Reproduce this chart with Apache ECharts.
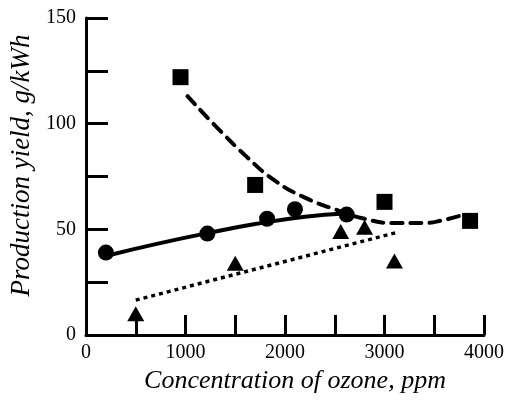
<!DOCTYPE html>
<html>
<head>
<meta charset="utf-8">
<script src="https://cdn.jsdelivr.net/npm/echarts@6/dist/echarts.min.js"></script>
<style>html,body{margin:0;padding:0;background:#fff}#c{width:508px;height:401px}</style>
</head>
<body>
<div id="c"></div>
<script>
// Measured points
const squarePts = [[950, 122], [1700, 71], [3000, 63], [3860, 54]];
const circlePts = [[200, 39], [1220, 48], [1820, 55], [2100, 59.5], [2620, 57]];
const trianglePts = [[500, 10], [1500, 34], [2560, 49], [2800, 51], [3100, 35]];
// Fitted curves as traced
const dashedFit = [[1020, 113], [1300, 99], [1600, 85], [1900, 73], [2200, 65], [2500, 59.5], [2800, 55], [3100, 53], [3400, 53], [3600, 54.5], [3800, 57]];
const solidFit = [[250, 38], [700, 43], [1200, 48], [1700, 52.5], [2200, 56], [2600, 57.5]];
const dottedFit = [[500, 16.5], [3120, 48.5]];
const xTickLabels = ['0', '1000', '2000', '3000', '4000'];
const yTickLabels = ['0', '50', '100', '150'];

const chart = echarts.init(document.getElementById('c'));
const serif = "'Liberation Serif', 'Times New Roman', serif";
chart.setOption({
  animation: false,
  backgroundColor: '#fff',
  textStyle: { fontFamily: serif },
  grid: { left: 86, right: 24, top: 18, bottom: 66 },
  xAxis: {
    type: 'value', min: 0, max: 4000, interval: 500,
    name: 'Concentration of ozone, ppm', nameLocation: 'middle', nameGap: 32,
    nameTextStyle: { fontFamily: serif, fontStyle: 'italic', fontSize: 26, color: '#000', padding: [0, 0, 0, 20] },
    axisLine: { lineStyle: { color: '#000', width: 3 } },
    axisTick: { inside: true, length: 20, lineStyle: { color: '#000', width: 3 } },
    axisLabel: {
      fontFamily: serif, fontSize: 20, color: '#000', margin: 8,
      formatter: v => xTickLabels.includes(String(v)) ? String(v) : ''
    },
    splitLine: { show: false }
  },
  yAxis: {
    type: 'value', min: 0, max: 150, interval: 25,
    name: 'Production yield, g/kWh', nameLocation: 'middle', nameGap: 50,
    nameTextStyle: { fontFamily: serif, fontStyle: 'italic', fontSize: 27, color: '#000', padding: [0, 0, 0, 22] },
    axisLine: { lineStyle: { color: '#000', width: 3 } },
    axisTick: { inside: true, length: 22, lineStyle: { color: '#000', width: 3 } },
    axisLabel: {
      fontFamily: serif, fontSize: 20, color: '#000', margin: 10,
      formatter: v => yTickLabels.includes(String(v)) ? String(v) : ''
    },
    splitLine: { show: false }
  },
  series: [
    { type: 'line', data: dashedFit, smooth: true, symbol: 'none', z: 2,
      lineStyle: { color: '#000', width: 4, type: [11, 8], cap: 'round' } },
    { type: 'line', data: solidFit, smooth: true, symbol: 'none', z: 2,
      lineStyle: { color: '#000', width: 4 } },
    { type: 'line', data: dottedFit, symbol: 'none', z: 2,
      lineStyle: { color: '#000', width: 3.5, type: [4, 4] } },
    { type: 'scatter', data: squarePts, symbol: 'rect', symbolSize: 16, z: 3,
      itemStyle: { color: '#000', opacity: 1 } },
    { type: 'scatter', data: circlePts, symbol: 'circle', symbolSize: 16, z: 3,
      itemStyle: { color: '#000', opacity: 1 } },
    { type: 'scatter', data: trianglePts, symbol: 'triangle', symbolSize: [17, 15], z: 3,
      itemStyle: { color: '#000', opacity: 1 } }
  ]
});
</script>
</body>
</html>
